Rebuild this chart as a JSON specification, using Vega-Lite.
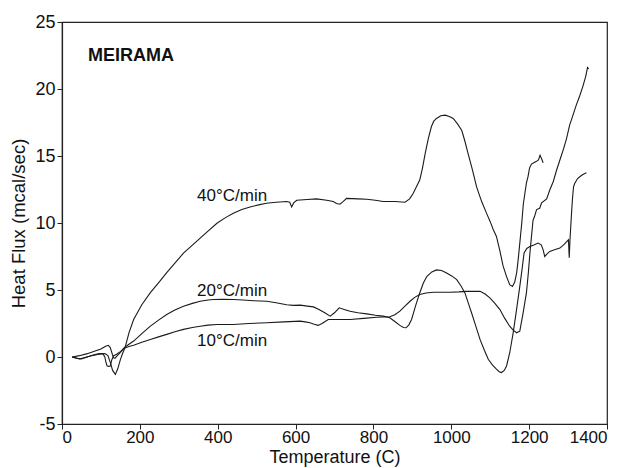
{
  "$schema": "https://vega.github.io/schema/vega-lite/v6.json",
  "autosize": "none",
  "width": 545,
  "height": 402,
  "padding": {"left": 62, "top": 22, "right": 27, "bottom": 44},
  "background": "white",
  "config": {
    "font": "Liberation Sans",
    "view": {"stroke": "#222", "strokeWidth": 1.2},
    "axis": {
      "grid": false,
      "domainColor": "#222",
      "domainWidth": 1.2,
      "tickColor": "#222",
      "tickSize": 5,
      "labelFontSize": 17,
      "labelColor": "#111",
      "titleFontSize": 18.5,
      "titleFontWeight": "normal",
      "titleColor": "#111",
      "labelPadding": 0
    }
  },
  "datasets": {
    "curves": [
      {"s": "40", "t": 26, "q": 0}, {"s": "40", "t": 45, "q": -0.15}, {"s": "40", "t": 70, "q": 0.05}, {"s": "40", "t": 95, "q": 0.2}, {"s": "40", "t": 110, "q": 0.25}, {"s": "40", "t": 118, "q": 0.1}, {"s": "40", "t": 124, "q": -0.4}, {"s": "40", "t": 130, "q": -1.0}, {"s": "40", "t": 137, "q": -1.3}, {"s": "40", "t": 143, "q": -0.9}, {"s": "40", "t": 150, "q": -0.2}, {"s": "40", "t": 156, "q": 0.3}, {"s": "40", "t": 162, "q": 0.7}, {"s": "40", "t": 172, "q": 1.8}, {"s": "40", "t": 184, "q": 2.8}, {"s": "40", "t": 205, "q": 3.9}, {"s": "40", "t": 227, "q": 4.8}, {"s": "40", "t": 250, "q": 5.6}, {"s": "40", "t": 269, "q": 6.3}, {"s": "40", "t": 290, "q": 7.0}, {"s": "40", "t": 312, "q": 7.75}, {"s": "40", "t": 335, "q": 8.35}, {"s": "40", "t": 355, "q": 8.87}, {"s": "40", "t": 375, "q": 9.4}, {"s": "40", "t": 398, "q": 9.98}, {"s": "40", "t": 420, "q": 10.4}, {"s": "40", "t": 440, "q": 10.73}, {"s": "40", "t": 462, "q": 11.0}, {"s": "40", "t": 483, "q": 11.2}, {"s": "40", "t": 505, "q": 11.35}, {"s": "40", "t": 525, "q": 11.47}, {"s": "40", "t": 550, "q": 11.55}, {"s": "40", "t": 577, "q": 11.6}, {"s": "40", "t": 585, "q": 11.55}, {"s": "40", "t": 590, "q": 11.2}, {"s": "40", "t": 595, "q": 11.5}, {"s": "40", "t": 603, "q": 11.7}, {"s": "40", "t": 630, "q": 11.75}, {"s": "40", "t": 654, "q": 11.8}, {"s": "40", "t": 680, "q": 11.7}, {"s": "40", "t": 697, "q": 11.6}, {"s": "40", "t": 705, "q": 11.45}, {"s": "40", "t": 714, "q": 11.4}, {"s": "40", "t": 722, "q": 11.6}, {"s": "40", "t": 731, "q": 11.84}, {"s": "40", "t": 760, "q": 11.8}, {"s": "40", "t": 783, "q": 11.77}, {"s": "40", "t": 805, "q": 11.7}, {"s": "40", "t": 825, "q": 11.6}, {"s": "40", "t": 855, "q": 11.6}, {"s": "40", "t": 881, "q": 11.55}, {"s": "40", "t": 893, "q": 11.8}, {"s": "40", "t": 902, "q": 12.2}, {"s": "40", "t": 912, "q": 12.8}, {"s": "40", "t": 919, "q": 13.2}, {"s": "40", "t": 926, "q": 14.1}, {"s": "40", "t": 933, "q": 15.2}, {"s": "40", "t": 941, "q": 16.3}, {"s": "40", "t": 949, "q": 17.2}, {"s": "40", "t": 955, "q": 17.6}, {"s": "40", "t": 962, "q": 17.8}, {"s": "40", "t": 973, "q": 18.0}, {"s": "40", "t": 984, "q": 18.05}, {"s": "40", "t": 995, "q": 17.95}, {"s": "40", "t": 1005, "q": 17.8}, {"s": "40", "t": 1016, "q": 17.4}, {"s": "40", "t": 1027, "q": 16.9}, {"s": "40", "t": 1035, "q": 16.1}, {"s": "40", "t": 1043, "q": 15.2}, {"s": "40", "t": 1054, "q": 14.0}, {"s": "40", "t": 1065, "q": 12.7}, {"s": "40", "t": 1078, "q": 11.6}, {"s": "40", "t": 1091, "q": 10.7}, {"s": "40", "t": 1100, "q": 10.1}, {"s": "40", "t": 1108, "q": 9.5}, {"s": "40", "t": 1116, "q": 9.0}, {"s": "40", "t": 1125, "q": 7.9}, {"s": "40", "t": 1133, "q": 6.8}, {"s": "40", "t": 1142, "q": 6.0}, {"s": "40", "t": 1150, "q": 5.4}, {"s": "40", "t": 1157, "q": 5.27}, {"s": "40", "t": 1163, "q": 5.6}, {"s": "40", "t": 1168, "q": 6.3}, {"s": "40", "t": 1172, "q": 7.3}, {"s": "40", "t": 1176, "q": 8.5}, {"s": "40", "t": 1181, "q": 10.0}, {"s": "40", "t": 1185, "q": 11.4}, {"s": "40", "t": 1189, "q": 12.2}, {"s": "40", "t": 1193, "q": 13.0}, {"s": "40", "t": 1197, "q": 13.45}, {"s": "40", "t": 1201, "q": 14.1}, {"s": "40", "t": 1206, "q": 14.4}, {"s": "40", "t": 1212, "q": 14.5}, {"s": "40", "t": 1219, "q": 14.6}, {"s": "40", "t": 1224, "q": 14.7}, {"s": "40", "t": 1228, "q": 15.05}, {"s": "40", "t": 1232, "q": 14.8}, {"s": "40", "t": 1236, "q": 14.5},

      {"s": "20", "t": 26, "q": 0}, {"s": "20", "t": 45, "q": 0.1}, {"s": "20", "t": 65, "q": 0.25}, {"s": "20", "t": 85, "q": 0.45}, {"s": "20", "t": 100, "q": 0.6}, {"s": "20", "t": 112, "q": 0.8}, {"s": "20", "t": 119, "q": 0.87}, {"s": "20", "t": 124, "q": 0.7}, {"s": "20", "t": 128, "q": 0.33}, {"s": "20", "t": 132, "q": -0.05}, {"s": "20", "t": 136, "q": -0.1}, {"s": "20", "t": 142, "q": 0.1}, {"s": "20", "t": 150, "q": 0.35}, {"s": "20", "t": 160, "q": 0.7}, {"s": "20", "t": 172, "q": 0.95}, {"s": "20", "t": 184, "q": 1.19}, {"s": "20", "t": 205, "q": 1.75}, {"s": "20", "t": 227, "q": 2.3}, {"s": "20", "t": 248, "q": 2.75}, {"s": "20", "t": 269, "q": 3.17}, {"s": "20", "t": 290, "q": 3.5}, {"s": "20", "t": 312, "q": 3.79}, {"s": "20", "t": 335, "q": 4.0}, {"s": "20", "t": 355, "q": 4.16}, {"s": "20", "t": 375, "q": 4.25}, {"s": "20", "t": 389, "q": 4.29}, {"s": "20", "t": 415, "q": 4.3}, {"s": "20", "t": 440, "q": 4.29}, {"s": "20", "t": 465, "q": 4.25}, {"s": "20", "t": 492, "q": 4.2}, {"s": "20", "t": 526, "q": 4.16}, {"s": "20", "t": 550, "q": 4.05}, {"s": "20", "t": 577, "q": 3.9}, {"s": "20", "t": 595, "q": 3.85}, {"s": "20", "t": 612, "q": 3.87}, {"s": "20", "t": 630, "q": 3.8}, {"s": "20", "t": 646, "q": 3.74}, {"s": "20", "t": 660, "q": 3.55}, {"s": "20", "t": 675, "q": 3.3}, {"s": "20", "t": 689, "q": 3.05}, {"s": "20", "t": 700, "q": 3.3}, {"s": "20", "t": 712, "q": 3.67}, {"s": "20", "t": 725, "q": 3.55}, {"s": "20", "t": 740, "q": 3.42}, {"s": "20", "t": 760, "q": 3.3}, {"s": "20", "t": 783, "q": 3.22}, {"s": "20", "t": 805, "q": 3.12}, {"s": "20", "t": 825, "q": 3.05}, {"s": "20", "t": 842, "q": 2.93}, {"s": "20", "t": 855, "q": 2.65}, {"s": "20", "t": 868, "q": 2.36}, {"s": "20", "t": 877, "q": 2.2}, {"s": "20", "t": 884, "q": 2.18}, {"s": "20", "t": 891, "q": 2.4}, {"s": "20", "t": 898, "q": 2.8}, {"s": "20", "t": 908, "q": 3.8}, {"s": "20", "t": 919, "q": 4.78}, {"s": "20", "t": 928, "q": 5.5}, {"s": "20", "t": 937, "q": 6.0}, {"s": "20", "t": 950, "q": 6.35}, {"s": "20", "t": 962, "q": 6.5}, {"s": "20", "t": 975, "q": 6.45}, {"s": "20", "t": 988, "q": 6.27}, {"s": "20", "t": 1001, "q": 6.05}, {"s": "20", "t": 1014, "q": 5.77}, {"s": "20", "t": 1025, "q": 5.3}, {"s": "20", "t": 1035, "q": 4.78}, {"s": "20", "t": 1044, "q": 4.0}, {"s": "20", "t": 1052, "q": 3.3}, {"s": "20", "t": 1063, "q": 2.3}, {"s": "20", "t": 1074, "q": 1.3}, {"s": "20", "t": 1085, "q": 0.5}, {"s": "20", "t": 1095, "q": -0.17}, {"s": "20", "t": 1106, "q": -0.6}, {"s": "20", "t": 1116, "q": -0.9}, {"s": "20", "t": 1123, "q": -1.1}, {"s": "20", "t": 1129, "q": -1.16}, {"s": "20", "t": 1136, "q": -1.0}, {"s": "20", "t": 1142, "q": -0.67}, {"s": "20", "t": 1150, "q": 0.3}, {"s": "20", "t": 1159, "q": 1.8}, {"s": "20", "t": 1167, "q": 3.4}, {"s": "20", "t": 1176, "q": 5.27}, {"s": "20", "t": 1182, "q": 6.6}, {"s": "20", "t": 1187, "q": 7.76}, {"s": "20", "t": 1194, "q": 8.1}, {"s": "20", "t": 1202, "q": 8.25}, {"s": "20", "t": 1212, "q": 8.35}, {"s": "20", "t": 1223, "q": 8.5}, {"s": "20", "t": 1231, "q": 8.37}, {"s": "20", "t": 1236, "q": 8.0}, {"s": "20", "t": 1240, "q": 7.5}, {"s": "20", "t": 1246, "q": 7.7}, {"s": "20", "t": 1253, "q": 7.88}, {"s": "20", "t": 1265, "q": 8.0}, {"s": "20", "t": 1279, "q": 8.13}, {"s": "20", "t": 1290, "q": 8.4}, {"s": "20", "t": 1297, "q": 8.62}, {"s": "20", "t": 1301, "q": 8.74}, {"s": "20", "t": 1303, "q": 7.4}, {"s": "20", "t": 1305, "q": 8.8}, {"s": "20", "t": 1308, "q": 10.3}, {"s": "20", "t": 1311, "q": 11.7}, {"s": "20", "t": 1314, "q": 12.7}, {"s": "20", "t": 1317, "q": 12.95}, {"s": "20", "t": 1324, "q": 13.3}, {"s": "20", "t": 1330, "q": 13.45}, {"s": "20", "t": 1337, "q": 13.6}, {"s": "20", "t": 1343, "q": 13.7}, {"s": "20", "t": 1347, "q": 13.75},

      {"s": "10", "t": 26, "q": 0}, {"s": "10", "t": 40, "q": -0.1}, {"s": "10", "t": 50, "q": -0.15}, {"s": "10", "t": 65, "q": 0}, {"s": "10", "t": 80, "q": 0.15}, {"s": "10", "t": 95, "q": 0.25}, {"s": "10", "t": 105, "q": 0.25}, {"s": "10", "t": 110, "q": 0.0}, {"s": "10", "t": 113, "q": -0.4}, {"s": "10", "t": 116, "q": -0.67}, {"s": "10", "t": 121, "q": -0.7}, {"s": "10", "t": 124, "q": -0.67}, {"s": "10", "t": 128, "q": -0.2}, {"s": "10", "t": 133, "q": 0.1}, {"s": "10", "t": 140, "q": 0.2}, {"s": "10", "t": 150, "q": 0.4}, {"s": "10", "t": 160, "q": 0.65}, {"s": "10", "t": 172, "q": 0.78}, {"s": "10", "t": 184, "q": 0.87}, {"s": "10", "t": 205, "q": 1.1}, {"s": "10", "t": 227, "q": 1.31}, {"s": "10", "t": 248, "q": 1.5}, {"s": "10", "t": 269, "q": 1.69}, {"s": "10", "t": 290, "q": 1.88}, {"s": "10", "t": 312, "q": 2.06}, {"s": "10", "t": 335, "q": 2.2}, {"s": "10", "t": 355, "q": 2.3}, {"s": "10", "t": 375, "q": 2.38}, {"s": "10", "t": 398, "q": 2.43}, {"s": "10", "t": 420, "q": 2.43}, {"s": "10", "t": 440, "q": 2.43}, {"s": "10", "t": 480, "q": 2.5}, {"s": "10", "t": 526, "q": 2.56}, {"s": "10", "t": 570, "q": 2.62}, {"s": "10", "t": 612, "q": 2.68}, {"s": "10", "t": 625, "q": 2.62}, {"s": "10", "t": 637, "q": 2.56}, {"s": "10", "t": 648, "q": 2.45}, {"s": "10", "t": 658, "q": 2.36}, {"s": "10", "t": 668, "q": 2.5}, {"s": "10", "t": 684, "q": 2.8}, {"s": "10", "t": 700, "q": 2.8}, {"s": "10", "t": 740, "q": 2.8}, {"s": "10", "t": 775, "q": 2.88}, {"s": "10", "t": 808, "q": 2.97}, {"s": "10", "t": 842, "q": 3.0}, {"s": "10", "t": 855, "q": 3.15}, {"s": "10", "t": 868, "q": 3.42}, {"s": "10", "t": 881, "q": 3.8}, {"s": "10", "t": 894, "q": 4.16}, {"s": "10", "t": 906, "q": 4.45}, {"s": "10", "t": 919, "q": 4.66}, {"s": "10", "t": 935, "q": 4.78}, {"s": "10", "t": 954, "q": 4.83}, {"s": "10", "t": 975, "q": 4.83}, {"s": "10", "t": 997, "q": 4.83}, {"s": "10", "t": 1020, "q": 4.86}, {"s": "10", "t": 1039, "q": 4.9}, {"s": "10", "t": 1055, "q": 4.9}, {"s": "10", "t": 1074, "q": 4.9}, {"s": "10", "t": 1087, "q": 4.7}, {"s": "10", "t": 1099, "q": 4.41}, {"s": "10", "t": 1112, "q": 4.0}, {"s": "10", "t": 1125, "q": 3.54}, {"s": "10", "t": 1137, "q": 2.9}, {"s": "10", "t": 1150, "q": 2.3}, {"s": "10", "t": 1159, "q": 2.0}, {"s": "10", "t": 1168, "q": 1.81}, {"s": "10", "t": 1176, "q": 1.93}, {"s": "10", "t": 1184, "q": 3.2}, {"s": "10", "t": 1193, "q": 4.78}, {"s": "10", "t": 1198, "q": 6.3}, {"s": "10", "t": 1202, "q": 7.76}, {"s": "10", "t": 1206, "q": 9.0}, {"s": "10", "t": 1210, "q": 10.2}, {"s": "10", "t": 1214, "q": 10.5}, {"s": "10", "t": 1219, "q": 11.0}, {"s": "10", "t": 1227, "q": 11.1}, {"s": "10", "t": 1232, "q": 11.5}, {"s": "10", "t": 1245, "q": 11.8}, {"s": "10", "t": 1253, "q": 12.46}, {"s": "10", "t": 1262, "q": 13.1}, {"s": "10", "t": 1270, "q": 13.9}, {"s": "10", "t": 1279, "q": 14.7}, {"s": "10", "t": 1288, "q": 15.5}, {"s": "10", "t": 1296, "q": 16.3}, {"s": "10", "t": 1304, "q": 17.3}, {"s": "10", "t": 1312, "q": 18.0}, {"s": "10", "t": 1321, "q": 18.8}, {"s": "10", "t": 1330, "q": 19.5}, {"s": "10", "t": 1338, "q": 20.2}, {"s": "10", "t": 1345, "q": 20.9}, {"s": "10", "t": 1350, "q": 21.6}, {"s": "10", "t": 1353, "q": 21.5}
    ],
    "labels": [
      {"label": "40°C/min", "t": 347, "q": 12.0},
      {"label": "20°C/min", "t": 347, "q": 4.96},
      {"label": "10°C/min", "t": 347, "q": 1.2}
    ],
    "title": [
      {"label": "MEIRAMA", "t": 67, "q": 22.5}
    ]
  },
  "layer": [
    {
      "data": {"name": "curves"},
      "mark": {"type": "line", "color": "#1a1a1a", "strokeWidth": 1.1, "interpolate": "linear"},
      "encoding": {
        "x": {
          "field": "t", "type": "quantitative",
          "scale": {"domain": [0, 1400], "nice": false},
          "axis": {"values": [0, 200, 400, 600, 800, 1000, 1200, 1400], "format": "d", "title": "Temperature (C)", "titleFontSize": 18, "titlePadding": 3}
        },
        "y": {
          "field": "q", "type": "quantitative",
          "scale": {"domain": [-5, 25], "nice": false, "zero": false},
          "axis": {"values": [-5, 0, 5, 10, 15, 20, 25], "title": "Heat Flux (mcal/sec)", "labelExpr": "'' + datum.value", "labelFontSize": 18, "labelPadding": 2, "titlePadding": 6}
        },
        "detail": {"field": "s", "type": "nominal"}
      }
    },
    {
      "data": {"name": "labels"},
      "mark": {"type": "text", "align": "left", "baseline": "middle", "fontSize": 17, "color": "#111"},
      "encoding": {
        "x": {"field": "t", "type": "quantitative"},
        "y": {"field": "q", "type": "quantitative"},
        "text": {"field": "label"}
      }
    },
    {
      "data": {"name": "title"},
      "mark": {"type": "text", "align": "left", "baseline": "middle", "fontSize": 18, "fontWeight": "bold", "color": "#111"},
      "encoding": {
        "x": {"field": "t", "type": "quantitative"},
        "y": {"field": "q", "type": "quantitative"},
        "text": {"field": "label"}
      }
    }
  ]
}
